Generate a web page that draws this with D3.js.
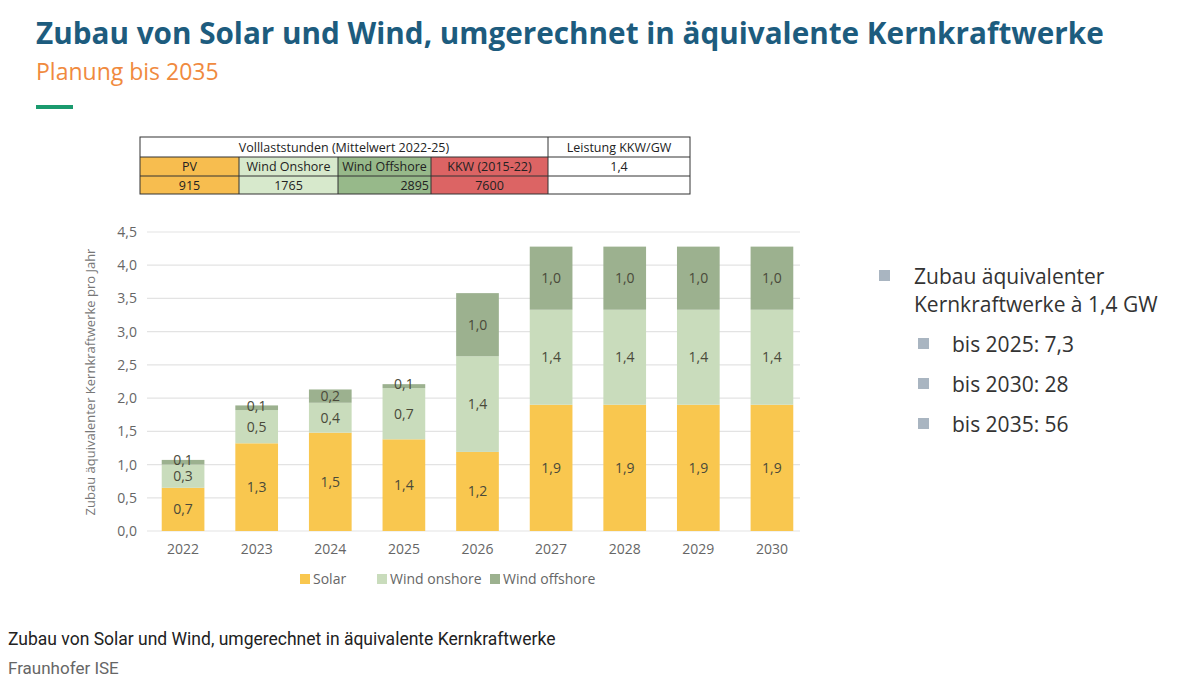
<!DOCTYPE html>
<html lang="de">
<head>
<meta charset="UTF-8">
<title>Zubau Solar und Wind</title>
<style>
html, body { margin:0; background:#fff; width:1200px; height:693px; overflow:hidden; font-family:"Open Sans", sans-serif; }
</style>
</head>
<body>
<div id="container"></div>
<script src="https://cdnjs.cloudflare.com/ajax/libs/d3/7.8.5/d3.min.js"></script>
<script>
var years = ['2022','2023','2024','2025','2026','2027','2028','2029','2030'];
var solar    = [0.65, 1.32, 1.48, 1.38, 1.19, 1.90, 1.90, 1.90, 1.90];
var onshore  = [0.35, 0.50, 0.45, 0.77, 1.44, 1.43, 1.43, 1.43, 1.43];
var offshore = [0.07, 0.07, 0.20, 0.06, 0.95, 0.95, 0.95, 0.95, 0.95];
var solarLbl    = ['0,7','1,3','1,5','1,4','1,2','1,9','1,9','1,9','1,9'];
var onshoreLbl  = ['0,3','0,5','0,4','0,7','1,4','1,4','1,4','1,4','1,4'];
var offshoreLbl = ['0,1','0,1','0,2','0,1','1,0','1,0','1,0','1,0','1,0'];
var yTicks = [0,0.5,1,1.5,2,2.5,3,3.5,4,4.5];
var seriesNames = ['Solar','Wind onshore','Wind offshore'];
var seriesColors = ['#f9c74f','#c9dcbc','#9cb18f'];
var rightLegend = ['bis 2025: 7,3','bis 2030: 28','bis 2035: 56'];

var svg = d3.select('#container').append('svg').attr('width',1200).attr('height',693);

// header
svg.append('text').attr('x',36).attr('y',44).attr('fill','#1d5c7e')
  .style('font-size','29.7px').style('font-weight','bold').text('Zubau von Solar und Wind, umgerechnet in äquivalente Kernkraftwerke');
svg.append('text').attr('x',36).attr('y',80).attr('fill','#f08a3e')
  .style('font-size','23px').text('Planung bis 2035');
svg.append('rect').attr('x',36).attr('y',105).attr('width',37).attr('height',4).attr('fill','#1a9a6e');

// table
var tx = [140,239,338,431,548,690];
var ty = [137,157,176,194];
var t = svg.append('g').style('font-size','12.5px').attr('fill','#222');
var fills = ['#f7bd4f','#d7e9cc','#97b98a','#dc6464'];
for (var i=0;i<4;i++) {
  t.append('rect').attr('x',tx[i]).attr('y',ty[1]).attr('width',tx[i+1]-tx[i]).attr('height',ty[3]-ty[1]).attr('fill',fills[i]);
}
t.append('rect').attr('x',tx[0]).attr('y',ty[0]).attr('width',tx[5]-tx[0]).attr('height',ty[3]-ty[0]).attr('fill','none').attr('stroke','#333');
[ty[1],ty[2]].forEach(function(y){ t.append('line').attr('x1',tx[0]).attr('x2',tx[5]).attr('y1',y).attr('y2',y).attr('stroke','#333'); });
t.append('line').attr('x1',tx[4]).attr('x2',tx[4]).attr('y1',ty[0]).attr('y2',ty[3]).attr('stroke','#333');
[1,2,3].forEach(function(k){ t.append('line').attr('x1',tx[k]).attr('x2',tx[k]).attr('y1',ty[1]).attr('y2',ty[3]).attr('stroke','#333'); });
function cell(x,y,s,anchor){ t.append('text').attr('x',x).attr('y',y).attr('text-anchor',anchor||'middle').text(s); }
cell((tx[0]+tx[4])/2,152,'Volllaststunden (Mittelwert 2022-25)');
cell((tx[4]+tx[5])/2,152,'Leistung KKW/GW');
['PV','Wind Onshore','Wind Offshore','KKW (2015-22)','1,4'].forEach(function(s,k){ cell((tx[k]+tx[k+1])/2,171,s); });
cell((tx[0]+tx[1])/2,190,'915'); cell((tx[1]+tx[2])/2,190,'1765');
cell(tx[3]-2,190,'2895','end'); cell((tx[3]+tx[4])/2,190,'7600');

// chart
var x = d3.scaleBand().domain(years).range([147,808]).paddingInner(0.42).paddingOuter(0.2);
var y = d3.scaleLinear().domain([0,4.5]).range([531,232]);

var g = svg.append('g');
g.selectAll('line.grid').data(yTicks).join('line').attr('class','grid')
  .attr('x1',147).attr('x2',800).attr('y1',d=>y(d)).attr('y2',d=>y(d))
  .attr('stroke','#e3e3e3').attr('stroke-width',1.2);

var yAxis = g.append('g').attr('transform','translate(140,0)')
  .call(d3.axisLeft(y).tickValues(yTicks).tickSize(0).tickFormat(d=>d3.format('.1f')(d).replace('.',',')));
yAxis.select('.domain').remove();
yAxis.selectAll('text').attr('fill','#666').style('font-size','14px').style('font-family','"Open Sans", sans-serif');

var xAxis = g.append('g').attr('transform','translate(0,531)').call(d3.axisBottom(x).tickSize(0));
xAxis.select('.domain').remove();
xAxis.selectAll('text').attr('fill','#666').attr('dy','1.4em').style('font-size','14px').style('font-family','"Open Sans", sans-serif');

svg.append('text').attr('transform','translate(95,382) rotate(-90)').attr('text-anchor','middle')
  .attr('fill','#777').style('font-size','13px').text('Zubau äquivalenter Kernkraftwerke pro Jahr');

var rows = years.map((yr,i)=>({year:yr, solar:solar[i], onshore:onshore[i], offshore:offshore[i]}));
var stack = d3.stack().keys(['solar','onshore','offshore'])(rows);
var labels = [solarLbl, onshoreLbl, offshoreLbl];
stack.forEach(function(layer, si){
  g.selectAll('rect.s'+si).data(layer).join('rect').attr('class','s'+si)
    .attr('x',d=>x(d.data.year)).attr('width',x.bandwidth())
    .attr('y',d=>y(d[1])).attr('height',d=>y(d[0])-y(d[1])).attr('fill',seriesColors[si]);
  g.selectAll('text.l'+si).data(layer).join('text').attr('class','l'+si)
    .attr('x',d=>x(d.data.year)+x.bandwidth()/2)
    .attr('y',d=>y((d[0]+d[1])/2)+5 + ((d[1]-d[0])<0.1 ? -2 : 0))
    .attr('text-anchor','middle').attr('fill','#4a4a3a').style('font-size','14px')
    .text((d,i)=>labels[si][i]);
});

// bottom legend
var lx = [300,377,490];
seriesNames.forEach(function(n,i){
  svg.append('rect').attr('x',lx[i]).attr('y',574).attr('width',10).attr('height',10).attr('fill',seriesColors[i]);
  svg.append('text').attr('x',lx[i]+13).attr('y',584).attr('fill','#666').style('font-size','14px').text(n);
});

// right legend
var rl = svg.append('g').attr('fill','#333').style('font-size','21px');
rl.append('rect').attr('x',879).attr('y',270).attr('width',11).attr('height',11).attr('fill','#a9b5c1');
rl.append('text').attr('x',914).attr('y',284).text('Zubau äquivalenter');
rl.append('text').attr('x',914).attr('y',312).text('Kernkraftwerke à 1,4 GW');
rightLegend.forEach(function(s,i){
  rl.append('rect').attr('x',918).attr('y',338+i*40).attr('width',11).attr('height',11).attr('fill','#a9b5c1');
  rl.append('text').attr('x',952).attr('y',352+i*40).text(s);
});

// caption
svg.append('text').attr('x',8).attr('y',645).attr('fill','#222').style('font-family','Roboto, sans-serif').style('font-size','17.5px')
  .text('Zubau von Solar und Wind, umgerechnet in äquivalente Kernkraftwerke');
svg.append('text').attr('x',8).attr('y',674).attr('fill','#666').style('font-family','Roboto, sans-serif').style('font-size','17px')
  .text('Fraunhofer ISE');
</script>
</body>
</html>
